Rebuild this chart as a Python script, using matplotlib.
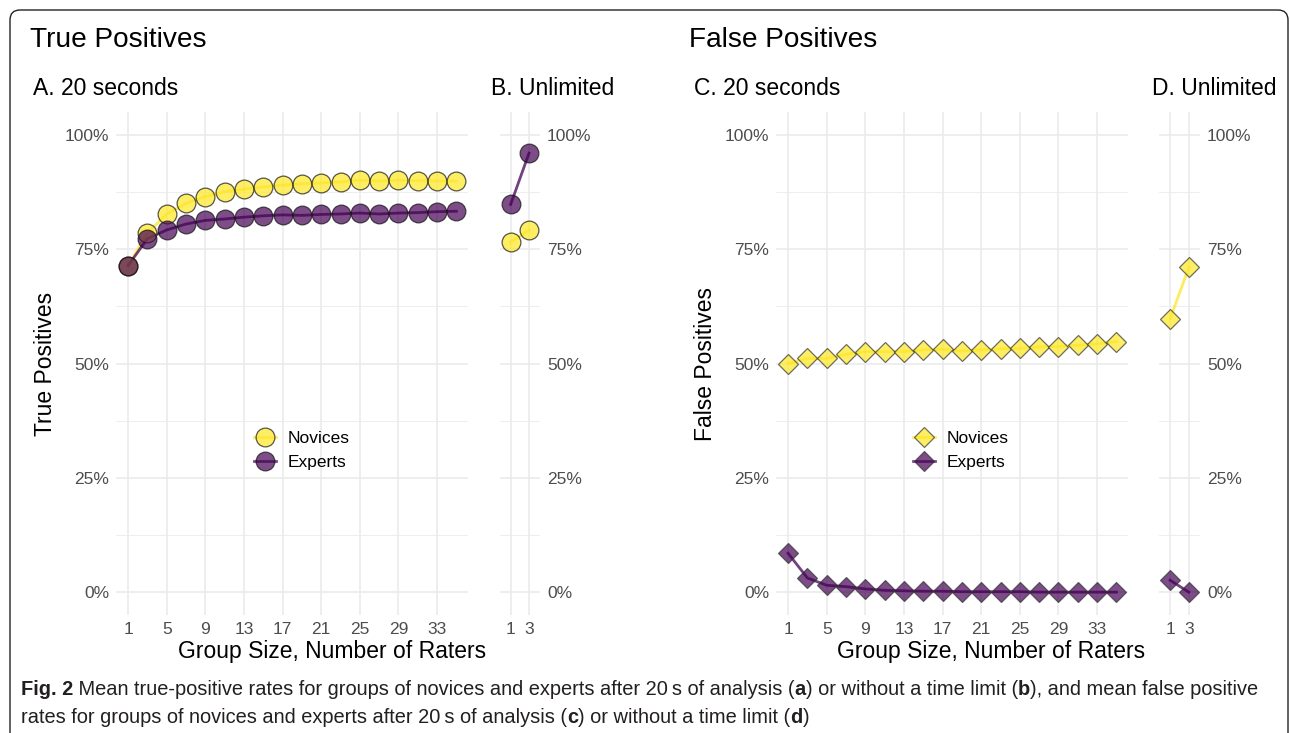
import matplotlib
matplotlib.use("Agg")
import numpy as np
import matplotlib.pyplot as plt
from matplotlib.lines import Line2D
from matplotlib.patches import FancyBboxPatch

plt.rcParams['font.family'] = ['Liberation Sans', 'DejaVu Sans']

# ─── data (percent) ─────────────────────────────────────
group_sizes = [1, 3, 5, 7, 9, 11, 13, 15, 17, 19, 21, 23, 25, 27, 29, 31, 33, 35]
x_breaks    = [1, 5, 9, 13, 17, 21, 25, 29, 33]
unl_groups  = ["1", "3"]

tp_novices_20s = [71.4, 78.5, 82.7, 85.0, 86.5, 87.6, 88.1, 88.6, 89.0,
                  89.3, 89.5, 89.7, 90.1, 89.9, 90.1, 90.0, 89.9, 89.9]
tp_experts_20s = [71.4, 77.3, 79.2, 80.5, 81.3, 81.6, 82.0, 82.3, 82.5,
                  82.4, 82.6, 82.7, 82.9, 82.7, 82.9, 83.0, 83.2, 83.3]
tp_novices_unl = [76.5, 79.2]
tp_experts_unl = [84.8, 96.0]

fp_novices_20s = [50.0, 51.1, 51.1, 52.0, 52.6, 52.6, 52.6, 53.0, 53.1,
                  52.7, 53.0, 53.2, 53.3, 53.6, 53.7, 54.0, 54.3, 54.8]
fp_experts_20s = [8.5, 3.1, 1.5, 1.2, 0.7, 0.4, 0.3, 0.2, 0.2,
                  0.1, 0.1, 0.1, 0.1, 0.0, 0.0, 0.0, 0.0, 0.0]
fp_novices_unl = [59.8, 71.0]
fp_experts_unl = [2.6, 0.0]

y_breaks = [0, 25, 50, 75, 100]
y_labels = ["0%", "25%", "50%", "75%", "100%"]

YEL = "#FDE725"
PUR = "#440154"
GRID = "#EBEBEB"
TICK = "#4D4D4D"

# ─── figure ─────────────────────────────────────────────
W, H = 1290, 733
fig = plt.figure(figsize=(W / 100, H / 100), dpi=100)

def box(l, t, r, b):
    return [l / W, 1 - b / H, (r - l) / W, (b - t) / H]

def fx(px): return px / W
def fy(py): return 1 - py / H

axA = fig.add_axes(box(116, 112, 468, 615))
axB = fig.add_axes(box(499.7, 112, 540, 615))
axC = fig.add_axes(box(776, 112, 1128, 615))
axD = fig.add_axes(box(1159, 112, 1200, 615))

def style(ax, right=False):
    ax.set_ylim(-5, 105)
    ax.set_yticks(y_breaks)
    ax.set_yticklabels(y_labels)
    ax.set_yticks([12.5, 37.5, 62.5, 87.5], minor=True)
    ax.grid(which="major", color=GRID, lw=1.2)
    ax.grid(which="minor", axis="y", color=GRID, lw=0.6)
    ax.set_axisbelow(True)
    for s in ax.spines.values():
        s.set_visible(False)
    ax.tick_params(which="both", length=0, labelsize=12.5, labelcolor=TICK, pad=5)
    if right:
        ax.yaxis.tick_right()

for ax in (axA, axC):
    style(ax)
    ax.set_xlim(-0.25, 36.2)
    ax.set_xticks(x_breaks)
for ax in (axB, axD):
    style(ax, right=True)
    ax.set_xlim(-0.6, 1.6)
    ax.set_xticks(np.arange(len(unl_groups)))
    ax.set_xticklabels(unl_groups)

def series(ax, x, nov, exp, marker, ms, mec):
    ax.plot(x, nov, color=YEL, lw=2, alpha=0.75, zorder=2)
    ax.plot(x, exp, color=PUR, lw=2, alpha=0.75, zorder=2)
    ax.plot(x, nov, ls="none", marker=marker, ms=ms, mfc=YEL, mec=mec, mew=0.9,
            alpha=0.7, zorder=3)
    ax.plot(x, exp, ls="none", marker=marker, ms=ms, mfc=PUR, mec=mec, mew=0.9,
            alpha=0.7, zorder=3)

xu = np.arange(len(unl_groups))
series(axA, group_sizes, tp_novices_20s, tp_experts_20s, "o", 13.5, "#111111")
series(axB, xu, tp_novices_unl, tp_experts_unl, "o", 13.5, "#111111")
series(axC, group_sizes, fp_novices_20s, fp_experts_20s, "D", 10.3, "#333333")
series(axD, xu, fp_novices_unl, fp_experts_unl, "D", 10.3, "#333333")

# legends
def legend(ax, marker, ms, mec, left_px, cy_px):
    h = [Line2D([], [], color=c, lw=2, marker=marker, ms=ms,
                mfc=c, mec=mec, mew=0.9, alpha=0.7) for c in (YEL, PUR)]
    ax.legend(h, ["Novices", "Experts"], loc="center left",
              bbox_to_anchor=(fx(left_px), fy(cy_px)), bbox_transform=fig.transFigure,
              frameon=False, fontsize=12.5, handlelength=1.3, handletextpad=0.65,
              labelspacing=0.52, borderpad=0, borderaxespad=0)

legend(axA, "o", 13.5, "#111111", 253.7, 450.5)
legend(axC, "D", 10.3, "#333333", 912.7, 450.5)

# ─── titles & labels ───────────────────────────────────
fig.text(fx(30), fy(46.7), "True Positives", fontsize=20.2, va="baseline")
fig.text(fx(689), fy(46.7), "False Positives", fontsize=20.2, va="baseline")
for x, s in ((33, "A. 20 seconds"), (491, "B. Unlimited"),
             (694, "C. 20 seconds"), (1152, "D. Unlimited")):
    fig.text(fx(x), fy(95), s, fontsize=16.5, va="baseline")

fig.text(fx(332), fy(658), "Group Size, Number of Raters", fontsize=16.5,
         ha="center", va="baseline")
fig.text(fx(991), fy(658), "Group Size, Number of Raters", fontsize=16.5,
         ha="center", va="baseline")
fig.text(fx(45), fy(364), "True Positives", fontsize=16.5, rotation=90,
         ha="center", va="center")
fig.text(fx(705), fy(364), "False Positives", fontsize=16.5, rotation=90,
         ha="center", va="center")

# ─── outer rounded border ──────────────────────────────
frame = FancyBboxPatch((0.10, -0.5), 12.78, 7.73, boxstyle="round,pad=0,rounding_size=0.1",
                       transform=fig.dpi_scale_trans, fill=False, ec="#222222", lw=1.0)
fig.add_artist(frame)

# ─── caption with bold runs ────────────────────────────
renderer = fig.canvas.get_renderer()
CAP = "#231F20"

def run_width(s, size, weight):
    t = fig.text(0, 0, "|" + s + "|", fontsize=size, weight=weight)
    w1 = t.get_window_extent(renderer).width
    t.remove()
    t = fig.text(0, 0, "||", fontsize=size, weight=weight)
    w0 = t.get_window_extent(renderer).width
    t.remove()
    return w1 - w0

line1 = [("Fig. 2", "bold"),
         (" Mean true-positive rates for groups of novices and experts after 20\u2009s of analysis (", "normal"),
         ("a", "bold"), (") or without a time limit (", "normal"), ("b", "bold"),
         ("), and mean false positive", "normal")]
line2 = [("rates for groups of novices and experts after 20\u2009s of analysis (", "normal"),
         ("c", "bold"), (") or without a time limit (", "normal"), ("d", "bold"), (")", "normal")]

base = 12.0
w_line1 = sum(run_width(s, base, w) for s, w in line1)
cap_size = base * (1241 / w_line1)

def draw_runs(runs, x_px, base_px):
    x = x_px
    for s, w in runs:
        fig.text(fx(x), fy(base_px), s, fontsize=cap_size, weight=w, color=CAP, va="baseline")
        x += run_width(s, cap_size, w)

draw_runs(line1, 21, 695)
draw_runs(line2, 21, 723)

fig.savefig("out.png", dpi=100)
